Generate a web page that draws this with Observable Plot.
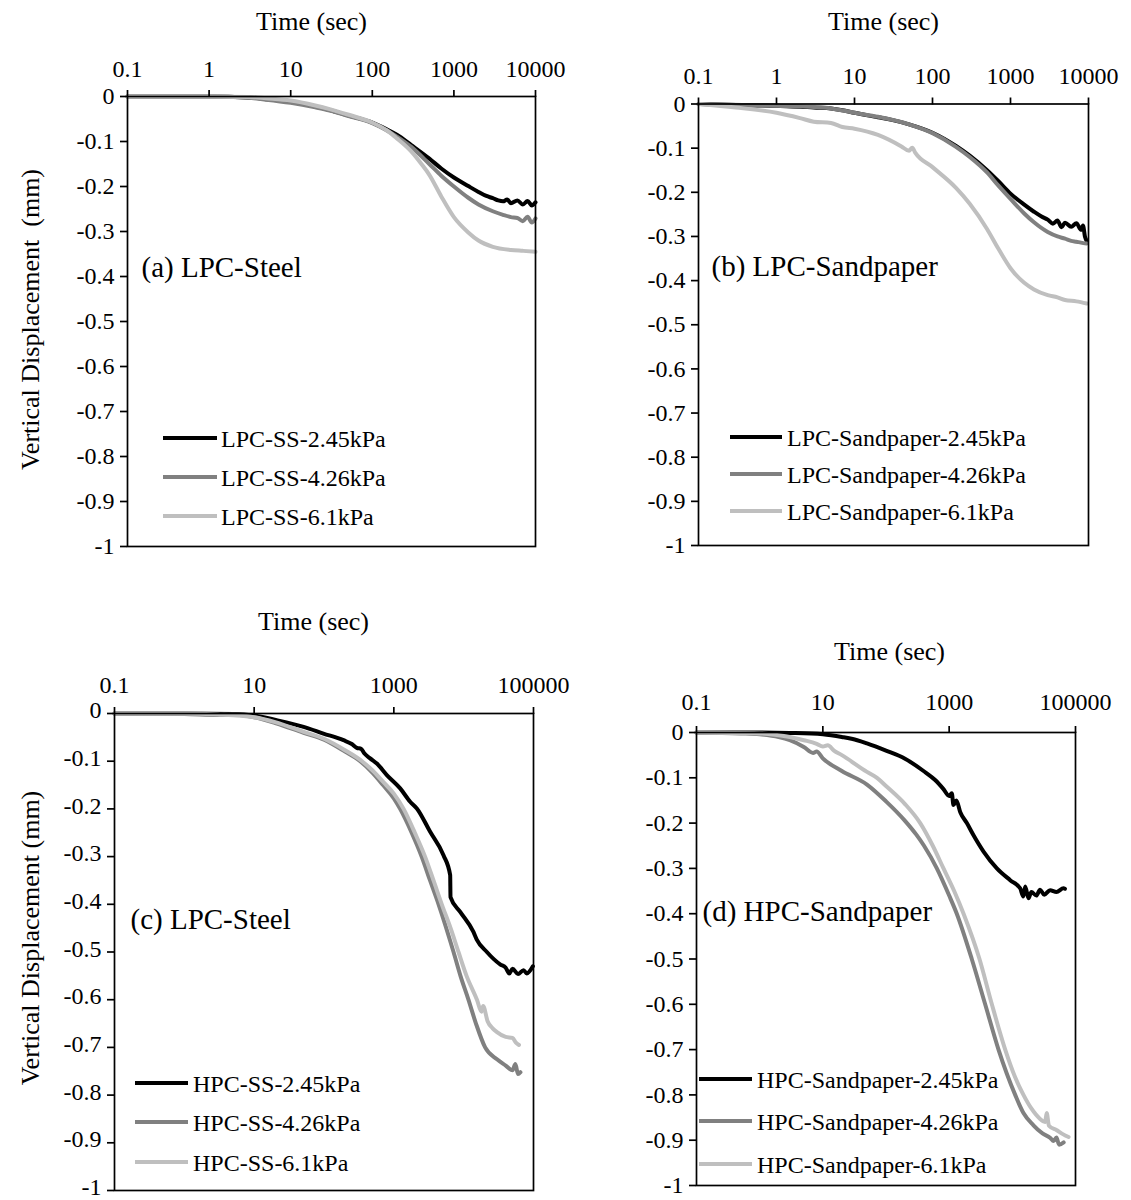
<!DOCTYPE html>
<html>
<head>
<meta charset="utf-8">
<script src="https://cdn.jsdelivr.net/npm/d3@7"></script>
<script src="https://cdn.jsdelivr.net/npm/@observablehq/plot@0.6"></script>
<style>
  body { margin: 0; background: #fff; }
  #wrap { position: relative; width: 1131px; height: 1200px; background: #fff; font-family: "Liberation Serif", "Times New Roman", serif; overflow: hidden; }
  #wrap svg { position: absolute; }
  #wrap svg text { font-family: "Liberation Serif", "Times New Roman", serif; font-variant: normal; }
  .legtxt { position: absolute; font-size: 24px; line-height: 24px; color: #000; white-space: nowrap; }
  .sw { position: absolute; height: 4px; }
</style>
</head>
<body>
<div id="wrap"></div>
<script>
// ---------------- DATA ----------------
const timeTicksShort = [0.1, 1, 10, 100, 1000, 10000];
const timeTicksLong = [0.1, 10, 1000, 100000];
const dispTicks = [0, -0.1, -0.2, -0.3, -0.4, -0.5, -0.6, -0.7, -0.8, -0.9, -1];
const seriesColors = ["#000000", "#808080", "#bfbfbf"];

const namesA = ["LPC-SS-2.45kPa", "LPC-SS-4.26kPa", "LPC-SS-6.1kPa"];
const namesB = ["LPC-Sandpaper-2.45kPa", "LPC-Sandpaper-4.26kPa", "LPC-Sandpaper-6.1kPa"];
const namesC = ["HPC-SS-2.45kPa", "HPC-SS-4.26kPa", "HPC-SS-6.1kPa"];
const namesD = ["HPC-Sandpaper-2.45kPa", "HPC-Sandpaper-4.26kPa", "HPC-Sandpaper-6.1kPa"];

const panelTitles = ["(a) LPC-Steel", "(b) LPC-Sandpaper", "(c) LPC-Steel", "(d) HPC-Sandpaper"];
const xTitle = "Time (sec)";
const yTitleA = "Vertical Displacement\u00a0\u00a0(mm)";
const yTitleC = "Vertical Displacement (mm)";

// [time (s), vertical displacement (mm)]
const a245 = [[0.1,0],[1,0],[3,-0.002],[5,-0.006],[10,-0.012],[20,-0.022],[30,-0.03],[50,-0.042],[100,-0.058],[150,-0.073],[200,-0.085],[300,-0.108],[500,-0.138],[700,-0.16],[1000,-0.18],[1500,-0.199],[2000,-0.212],[2500,-0.221],[3000,-0.226],[3500,-0.231],[4000,-0.233],[4500,-0.229],[5000,-0.237],[6000,-0.231],[7000,-0.24],[8000,-0.232],[9000,-0.242],[10000,-0.235]];
const a426 = [[0.1,0],[1,0],[3,-0.003],[5,-0.007],[10,-0.014],[20,-0.024],[30,-0.031],[50,-0.043],[100,-0.059],[200,-0.089],[300,-0.112],[500,-0.15],[700,-0.176],[1000,-0.2],[1500,-0.225],[2000,-0.24],[3000,-0.255],[4000,-0.263],[5000,-0.268],[6000,-0.27],[7000,-0.277],[8000,-0.267],[9000,-0.28],[10000,-0.271]];
const a61 = [[0.1,0],[1,0],[3,-0.001],[5,-0.004],[10,-0.009],[20,-0.02],[30,-0.028],[50,-0.04],[100,-0.058],[150,-0.075],[200,-0.093],[300,-0.122],[400,-0.15],[500,-0.174],[700,-0.222],[1000,-0.268],[1500,-0.302],[2000,-0.32],[3000,-0.334],[5000,-0.341],[7000,-0.343],[10000,-0.345]];

const b245 = [[0.1,0],[0.3,-0.002],[1,-0.004],[2,-0.006],[3,-0.008],[5,-0.01],[7,-0.014],[10,-0.02],[20,-0.03],[30,-0.036],[50,-0.046],[100,-0.065],[200,-0.095],[300,-0.117],[500,-0.15],[700,-0.175],[1000,-0.203],[1500,-0.228],[2000,-0.244],[2500,-0.255],[3000,-0.262],[3500,-0.271],[4000,-0.264],[4500,-0.279],[5000,-0.269],[6000,-0.278],[7000,-0.27],[8000,-0.285],[8500,-0.275],[9000,-0.3],[9500,-0.31]];
const b426 = [[0.1,0],[1,-0.004],[3,-0.007],[5,-0.01],[10,-0.02],[20,-0.029],[50,-0.046],[100,-0.066],[200,-0.097],[300,-0.12],[500,-0.155],[700,-0.185],[1000,-0.215],[1500,-0.248],[2000,-0.268],[3000,-0.29],[4000,-0.3],[5000,-0.305],[6000,-0.31],[7000,-0.312],[8000,-0.314],[9500,-0.316]];
const b61 = [[0.1,0],[0.3,-0.008],[1,-0.02],[2,-0.032],[3,-0.04],[5,-0.043],[7,-0.052],[10,-0.056],[20,-0.07],[40,-0.096],[50,-0.106],[55,-0.099],[60,-0.11],[100,-0.143],[200,-0.19],[300,-0.226],[500,-0.283],[700,-0.328],[1000,-0.372],[1500,-0.405],[2000,-0.42],[3000,-0.433],[4000,-0.438],[5000,-0.444],[7000,-0.447],[9500,-0.452]];

const c245 = [[0.1,0],[1,0],[5,-0.001],[9.8,-0.004],[21,-0.014],[51,-0.028],[98,-0.042],[190,-0.056],[250,-0.064],[295,-0.072],[340,-0.074],[380,-0.084],[458,-0.094],[571,-0.105],[794,-0.129],[1233,-0.157],[1714,-0.185],[2135,-0.199],[3313,-0.248],[5140,-0.297],[6410,-0.339],[6480,-0.385],[8920,-0.416],[13800,-0.458],[15400,-0.474],[21500,-0.5],[27000,-0.515],[33300,-0.526],[40000,-0.533],[45000,-0.545],[50000,-0.535],[60000,-0.546],[72000,-0.538],[80000,-0.545],[98000,-0.53]];
const c426 = [[0.1,0],[1,-0.001],[3,-0.003],[5,-0.002],[10,-0.008],[20,-0.02],[50,-0.04],[100,-0.055],[200,-0.08],[330,-0.1],[500,-0.125],[700,-0.15],[1000,-0.178],[1230,-0.2],[1800,-0.25],[2500,-0.3],[3300,-0.35],[4370,-0.4],[7160,-0.5],[9000,-0.55],[11700,-0.6],[15000,-0.65],[20300,-0.7],[30000,-0.725],[40000,-0.738],[50000,-0.748],[55000,-0.735],[60000,-0.756],[65000,-0.752]];
const c61 = [[0.1,0],[1,0],[3,-0.002],[10,-0.008],[20,-0.018],[50,-0.038],[100,-0.053],[200,-0.077],[350,-0.1],[500,-0.12],[700,-0.143],[1000,-0.168],[1380,-0.2],[2000,-0.25],[2800,-0.3],[3700,-0.35],[4860,-0.4],[6500,-0.45],[8430,-0.5],[11000,-0.55],[15500,-0.6],[18000,-0.625],[19000,-0.613],[22000,-0.645],[26000,-0.66],[30000,-0.668],[40000,-0.678],[50000,-0.68],[56000,-0.69],[62000,-0.695]];

const d245 = [[0.1,0],[1,0],[3,-0.001],[10,-0.004],[20,-0.01],[35,-0.017],[50,-0.024],[100,-0.04],[200,-0.058],[393,-0.085],[600,-0.105],[813,-0.125],[1000,-0.14],[1100,-0.134],[1170,-0.16],[1300,-0.15],[1500,-0.176],[1905,-0.2],[2430,-0.227],[3500,-0.263],[5690,-0.3],[9250,-0.326],[13300,-0.344],[14900,-0.362],[16000,-0.34],[18000,-0.366],[20000,-0.352],[24000,-0.36],[27500,-0.347],[32000,-0.358],[39600,-0.348],[50000,-0.352],[64600,-0.344],[68000,-0.345]];
const d426 = [[0.1,0],[0.5,-0.002],[1,-0.004],[2,-0.01],[3,-0.017],[5,-0.032],[7,-0.045],[8,-0.042],[10,-0.057],[20,-0.085],[50,-0.115],[100,-0.152],[200,-0.195],[300,-0.225],[400,-0.25],[638,-0.3],[1000,-0.36],[1320,-0.4],[2280,-0.5],[3715,-0.6],[6040,-0.7],[11100,-0.8],[15000,-0.84],[21600,-0.867],[30000,-0.885],[40000,-0.895],[45000,-0.902],[50000,-0.894],[55000,-0.91],[65000,-0.905]];
const d61 = [[0.1,0],[1,-0.002],[3,-0.01],[5,-0.017],[8,-0.025],[10,-0.031],[12,-0.028],[15,-0.04],[20,-0.05],[50,-0.087],[72,-0.1],[100,-0.118],[200,-0.158],[348,-0.2],[550,-0.25],[813,-0.3],[1200,-0.35],[1690,-0.4],[3020,-0.5],[4740,-0.6],[7710,-0.7],[11000,-0.76],[15000,-0.8],[20000,-0.83],[27500,-0.853],[33000,-0.86],[35000,-0.84],[38000,-0.868],[50600,-0.878],[60000,-0.885],[70000,-0.89],[77700,-0.893]];

// ---------------- LAYOUT ----------------
const panels = [
  {names: namesA, series: [a245, a426, a61], ticks: timeTicksShort, domain: [0.1, 10000], title: panelTitles[0], yTitle: yTitleA,
   left: 0, top: 0, width: 565, height: 600, mL: 127, mR: 30, mT: 96, mB: 54, tickPad: 13, yLabDy: 0,
   xT: {dx: -20, dy: -67}, yT: {dx: -97, dy: -2}, pl: {dx: 14, dy: 180},
   leg: {x0: 163, x1: 217, tx: 221, ys: [438, 477, 516]}},
  {names: namesB, series: [b245, b426, b61], ticks: timeTicksShort, domain: [0.1, 10000], title: panelTitles[1], yTitle: null,
   left: 565, top: 0, width: 566, height: 600, mL: 133, mR: 43, mT: 103.5, mB: 55, tickPad: 13, yLabDy: 0,
   xT: {dx: -10, dy: -74.5}, yT: null, pl: {dx: 13, dy: 171.5},
   leg: {x0: 730, x1: 782, tx: 787, ys: [437, 474, 511]}},
  {names: namesC, series: [c245, c426, c61], ticks: timeTicksLong, domain: [0.1, 100000], title: panelTitles[2], yTitle: yTitleC,
   left: 0, top: 600, width: 565, height: 600, mL: 114, mR: 32, mT: 113, mB: 10, tickPad: 14, yLabDy: -3,
   xT: {dx: -10.5, dy: -84}, yT: {dx: -84, dy: -14}, pl: {dx: 16, dy: 215},
   leg: {x0: 135, x1: 188, tx: 193, ys: [1083, 1122, 1162]}},
  {names: namesD, series: [d245, d426, d61], ticks: timeTicksLong, domain: [0.1, 100000], title: panelTitles[3], yTitle: null,
   left: 565, top: 600, width: 566, height: 600, mL: 131, mR: 56, mT: 132, mB: 15, tickPad: 16, yLabDy: 0,
   xT: {dx: 3.5, dy: -73}, yT: null, pl: {dx: 6, dy: 188},
   leg: {x0: 699, x1: 752, tx: 757, ys: [1079, 1121, 1164]}}
];

const FONT = "Liberation Serif";
const wrap = document.getElementById("wrap");
const fmtY = d => (d === 0 ? "0" : String(+d.toFixed(1)));
const fmtX = d => String(d);

for (const p of panels) {
  const rows = p.series.flatMap((s, i) => s.map(([t, v]) => ({t, v, name: p.names[i]})));
  const marks = [
    ...p.names.map(n => Plot.line(rows.filter(r => r.name === n), {x: "t", y: "v", stroke: "name", strokeWidth: 4, curve: "monotone-x", strokeLinejoin: "round"})),
    Plot.frame({stroke: "black", strokeWidth: 1.7}),
    Plot.axisX(p.ticks, {anchor: "top", tickFormat: fmtX, tickSize: 7, tickPadding: p.tickPad, fontSize: 24, fontFamily: FONT, fontVariant: "normal", label: null, strokeWidth: 1.7}),
    // y tick marks
    Plot.axisY(dispTicks, {anchor: "left", tickSize: 7, fill: "none", label: null, strokeWidth: 1.7}),
    // y tick labels
    Plot.axisY(dispTicks, {anchor: "left", tickFormat: fmtY, tickSize: 0, tickPadding: 13, dy: p.yLabDy, fontSize: 24, fontFamily: FONT, fontVariant: "normal", label: null}),
    Plot.text([xTitle], {text: d => d, frameAnchor: "top", dx: p.xT.dx, dy: p.xT.dy, textAnchor: "middle", lineAnchor: "bottom", fontSize: 26, fontFamily: FONT, fill: "black"}),
    Plot.text([p.title], {text: d => d, frameAnchor: "top-left", dx: p.pl.dx, dy: p.pl.dy, textAnchor: "start", lineAnchor: "bottom", fontSize: 29, fontFamily: FONT, fill: "black"})
  ];
  if (p.yTitle) {
    marks.push(Plot.text([p.yTitle], {text: d => d, frameAnchor: "left", dx: p.yT.dx, dy: p.yT.dy, rotate: -90, textAnchor: "middle", lineAnchor: "middle", fontSize: 26, fontFamily: FONT, fill: "black"}));
  }
  const svg = Plot.plot({
    width: p.width,
    height: p.height,
    marginLeft: p.mL, marginRight: p.mR, marginTop: p.mT, marginBottom: p.mB,
    x: {type: "log", domain: p.domain},
    y: {domain: [-1, 0]},
    color: {domain: p.names, range: seriesColors},
    style: {fontFamily: "'Liberation Serif', 'Times New Roman', serif", fontSize: "24px", color: "black", background: "transparent", overflow: "visible"},
    marks
  });
  svg.style.left = p.left + "px";
  svg.style.top = p.top + "px";
  wrap.appendChild(svg);

  // legend (HTML, drawn over the plot area as in the reference)
  p.names.forEach((n, i) => {
    const y = p.leg.ys[i];
    const sw = document.createElement("div");
    sw.className = "sw";
    sw.style.left = p.leg.x0 + "px";
    sw.style.width = (p.leg.x1 - p.leg.x0) + "px";
    sw.style.top = (y - 2) + "px";
    sw.style.background = seriesColors[i];
    wrap.appendChild(sw);
    const tx = document.createElement("div");
    tx.className = "legtxt";
    tx.textContent = n;
    tx.style.left = p.leg.tx + "px";
    tx.style.top = (y - 11.5) + "px";
    wrap.appendChild(tx);
  });
}
</script>
</body>
</html>
